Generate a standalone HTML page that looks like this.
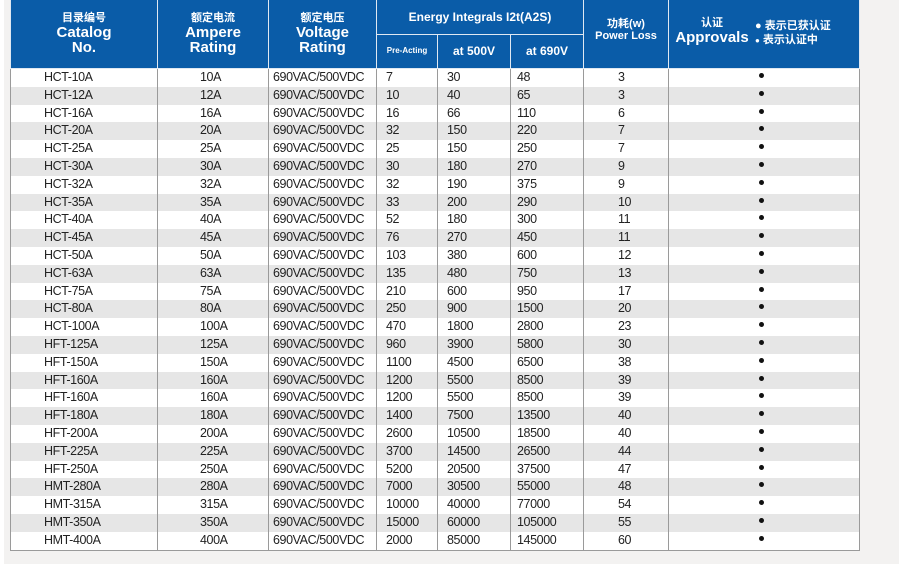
<!DOCTYPE html>
<html><head><meta charset="utf-8"><style>
html,body{margin:0;padding:0;width:899px;height:579px;background:#fff;overflow:hidden}
#panel{position:absolute;left:4px;top:0;width:895px;height:564px;background:#f3f2f1}
table{position:absolute;left:10px;top:0;border-collapse:collapse;table-layout:fixed;width:849px;font-family:"Liberation Sans","Noto Sans CJK SC",sans-serif}
th{background:#0a5ca8;color:#fff;font-weight:bold;border:1.5px solid #dfe8f2;border-top:none;padding:0;line-height:1.0}
td{height:17.8px;padding:0;font-size:12.5px;color:#222;border-left:1px solid #9a9a9a;border-right:1px solid #9a9a9a;line-height:17.8px;white-space:nowrap;letter-spacing:-0.4px}
tbody tr:nth-child(even) td{background:#e6e6e6}
tbody tr:nth-child(odd) td{background:#fff}
tbody tr:last-child td{border-bottom:1px solid #9a9a9a}
.c1{padding-left:33px}.c2{padding-left:42px}.c3{padding-left:4px}.c4{padding-left:9px}.c5{padding-left:9px}.c6{padding-left:6px}.c7{padding-left:34px}.c8{text-align:center;padding-right:0}
.cn{font-size:11px;margin-bottom:1px}.en{font-size:15px}
.dot{display:inline-block;width:5px;height:5px;border-radius:50%;background:#111;vertical-align:3px;margin-left:-6px}
</style></head><body>
<div id="panel"></div>
<table>
<colgroup><col style="width:147px"><col style="width:111px"><col style="width:108px"><col style="width:61px"><col style="width:73px"><col style="width:73px"><col style="width:85px"><col style="width:191px"></colgroup>
<thead>
<tr style="height:34px">
<th rowspan="2" style="height:68px"><div class="cn">目录编号</div><div class="en">Catalog<br>No.</div></th>
<th rowspan="2"><div class="cn">额定电流</div><div class="en">Ampere<br>Rating</div></th>
<th rowspan="2"><div class="cn">额定电压</div><div class="en">Voltage<br>Rating</div></th>
<th colspan="3" style="font-size:12px">Energy Integrals I2t(A2S)</th>
<th rowspan="2" style="font-size:11px;vertical-align:top;padding-top:18px;line-height:12px">功耗(w)<br>Power Loss</th>
<th rowspan="2" style="vertical-align:top;padding-top:18px;text-align:left"><div style="display:flex;align-items:flex-start"><div style="width:86px;text-align:center"><div class="cn">认证</div><div class="en">Approvals</div></div><div style="font-size:11px;line-height:14px;padding-top:1px">● 表示已获认证<br><span style="font-size:8px">●</span> 表示认证中</div></div></th>
</tr>
<tr style="height:34px">
<th style="font-size:8px">Pre-Acting</th><th style="font-size:12px">at 500V</th><th style="font-size:12px">at 690V</th>
</tr>
</thead>
<tbody>
<tr><td class="c1">HCT-10A</td><td class="c2">10A</td><td class="c3">690VAC/500VDC</td><td class="c4">7</td><td class="c5">30</td><td class="c6">48</td><td class="c7">3</td><td class="c8"><span class="dot"></span></td></tr>
<tr><td class="c1">HCT-12A</td><td class="c2">12A</td><td class="c3">690VAC/500VDC</td><td class="c4">10</td><td class="c5">40</td><td class="c6">65</td><td class="c7">3</td><td class="c8"><span class="dot"></span></td></tr>
<tr><td class="c1">HCT-16A</td><td class="c2">16A</td><td class="c3">690VAC/500VDC</td><td class="c4">16</td><td class="c5">66</td><td class="c6">110</td><td class="c7">6</td><td class="c8"><span class="dot"></span></td></tr>
<tr><td class="c1">HCT-20A</td><td class="c2">20A</td><td class="c3">690VAC/500VDC</td><td class="c4">32</td><td class="c5">150</td><td class="c6">220</td><td class="c7">7</td><td class="c8"><span class="dot"></span></td></tr>
<tr><td class="c1">HCT-25A</td><td class="c2">25A</td><td class="c3">690VAC/500VDC</td><td class="c4">25</td><td class="c5">150</td><td class="c6">250</td><td class="c7">7</td><td class="c8"><span class="dot"></span></td></tr>
<tr><td class="c1">HCT-30A</td><td class="c2">30A</td><td class="c3">690VAC/500VDC</td><td class="c4">30</td><td class="c5">180</td><td class="c6">270</td><td class="c7">9</td><td class="c8"><span class="dot"></span></td></tr>
<tr><td class="c1">HCT-32A</td><td class="c2">32A</td><td class="c3">690VAC/500VDC</td><td class="c4">32</td><td class="c5">190</td><td class="c6">375</td><td class="c7">9</td><td class="c8"><span class="dot"></span></td></tr>
<tr><td class="c1">HCT-35A</td><td class="c2">35A</td><td class="c3">690VAC/500VDC</td><td class="c4">33</td><td class="c5">200</td><td class="c6">290</td><td class="c7">10</td><td class="c8"><span class="dot"></span></td></tr>
<tr><td class="c1">HCT-40A</td><td class="c2">40A</td><td class="c3">690VAC/500VDC</td><td class="c4">52</td><td class="c5">180</td><td class="c6">300</td><td class="c7">11</td><td class="c8"><span class="dot"></span></td></tr>
<tr><td class="c1">HCT-45A</td><td class="c2">45A</td><td class="c3">690VAC/500VDC</td><td class="c4">76</td><td class="c5">270</td><td class="c6">450</td><td class="c7">11</td><td class="c8"><span class="dot"></span></td></tr>
<tr><td class="c1">HCT-50A</td><td class="c2">50A</td><td class="c3">690VAC/500VDC</td><td class="c4">103</td><td class="c5">380</td><td class="c6">600</td><td class="c7">12</td><td class="c8"><span class="dot"></span></td></tr>
<tr><td class="c1">HCT-63A</td><td class="c2">63A</td><td class="c3">690VAC/500VDC</td><td class="c4">135</td><td class="c5">480</td><td class="c6">750</td><td class="c7">13</td><td class="c8"><span class="dot"></span></td></tr>
<tr><td class="c1">HCT-75A</td><td class="c2">75A</td><td class="c3">690VAC/500VDC</td><td class="c4">210</td><td class="c5">600</td><td class="c6">950</td><td class="c7">17</td><td class="c8"><span class="dot"></span></td></tr>
<tr><td class="c1">HCT-80A</td><td class="c2">80A</td><td class="c3">690VAC/500VDC</td><td class="c4">250</td><td class="c5">900</td><td class="c6">1500</td><td class="c7">20</td><td class="c8"><span class="dot"></span></td></tr>
<tr><td class="c1">HCT-100A</td><td class="c2">100A</td><td class="c3">690VAC/500VDC</td><td class="c4">470</td><td class="c5">1800</td><td class="c6">2800</td><td class="c7">23</td><td class="c8"><span class="dot"></span></td></tr>
<tr><td class="c1">HFT-125A</td><td class="c2">125A</td><td class="c3">690VAC/500VDC</td><td class="c4">960</td><td class="c5">3900</td><td class="c6">5800</td><td class="c7">30</td><td class="c8"><span class="dot"></span></td></tr>
<tr><td class="c1">HFT-150A</td><td class="c2">150A</td><td class="c3">690VAC/500VDC</td><td class="c4">1100</td><td class="c5">4500</td><td class="c6">6500</td><td class="c7">38</td><td class="c8"><span class="dot"></span></td></tr>
<tr><td class="c1">HFT-160A</td><td class="c2">160A</td><td class="c3">690VAC/500VDC</td><td class="c4">1200</td><td class="c5">5500</td><td class="c6">8500</td><td class="c7">39</td><td class="c8"><span class="dot"></span></td></tr>
<tr><td class="c1">HFT-160A</td><td class="c2">160A</td><td class="c3">690VAC/500VDC</td><td class="c4">1200</td><td class="c5">5500</td><td class="c6">8500</td><td class="c7">39</td><td class="c8"><span class="dot"></span></td></tr>
<tr><td class="c1">HFT-180A</td><td class="c2">180A</td><td class="c3">690VAC/500VDC</td><td class="c4">1400</td><td class="c5">7500</td><td class="c6">13500</td><td class="c7">40</td><td class="c8"><span class="dot"></span></td></tr>
<tr><td class="c1">HFT-200A</td><td class="c2">200A</td><td class="c3">690VAC/500VDC</td><td class="c4">2600</td><td class="c5">10500</td><td class="c6">18500</td><td class="c7">40</td><td class="c8"><span class="dot"></span></td></tr>
<tr><td class="c1">HFT-225A</td><td class="c2">225A</td><td class="c3">690VAC/500VDC</td><td class="c4">3700</td><td class="c5">14500</td><td class="c6">26500</td><td class="c7">44</td><td class="c8"><span class="dot"></span></td></tr>
<tr><td class="c1">HFT-250A</td><td class="c2">250A</td><td class="c3">690VAC/500VDC</td><td class="c4">5200</td><td class="c5">20500</td><td class="c6">37500</td><td class="c7">47</td><td class="c8"><span class="dot"></span></td></tr>
<tr><td class="c1">HMT-280A</td><td class="c2">280A</td><td class="c3">690VAC/500VDC</td><td class="c4">7000</td><td class="c5">30500</td><td class="c6">55000</td><td class="c7">48</td><td class="c8"><span class="dot"></span></td></tr>
<tr><td class="c1">HMT-315A</td><td class="c2">315A</td><td class="c3">690VAC/500VDC</td><td class="c4">10000</td><td class="c5">40000</td><td class="c6">77000</td><td class="c7">54</td><td class="c8"><span class="dot"></span></td></tr>
<tr><td class="c1">HMT-350A</td><td class="c2">350A</td><td class="c3">690VAC/500VDC</td><td class="c4">15000</td><td class="c5">60000</td><td class="c6">105000</td><td class="c7">55</td><td class="c8"><span class="dot"></span></td></tr>
<tr><td class="c1">HMT-400A</td><td class="c2">400A</td><td class="c3">690VAC/500VDC</td><td class="c4">2000</td><td class="c5">85000</td><td class="c6">145000</td><td class="c7">60</td><td class="c8"><span class="dot"></span></td></tr>
</tbody>
</table>
</body></html>
